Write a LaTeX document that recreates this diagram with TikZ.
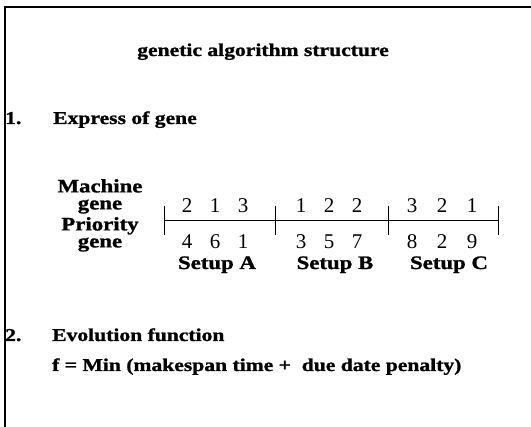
\documentclass[tikz,border=0pt]{standalone}
\usepackage{fontspec}
\setmainfont{Liberation Serif}
\newfontfamily\headfont[FakeStretch=1.2,FakeBold=1.2]{Liberation Serif Bold}
\newfontfamily\digitfont{Liberation Serif}
\usepackage{tikz}
\usetikzlibrary{calc}

\begin{document}
\begin{tikzpicture}[
    x=1pt, y=-1pt,
    frame line/.style={line width=1.2pt},
    gene line/.style={line width=1pt},
    heading/.style={font=\headfont\fontsize{18}{20}\selectfont, anchor=base west, inner sep=0pt},
    title text/.style={font=\headfont\fontsize{18}{20}\selectfont, anchor=base, inner sep=0pt},
    row name/.style={font=\headfont\fontsize{19}{17}\selectfont, align=center, anchor=north, inner sep=0pt},
    gene label/.style={font=\headfont\fontsize{19}{19}\selectfont, anchor=base, inner sep=0pt,
        text height=13pt, text depth=3.5pt},
    digit/.style={font=\digitfont\fontsize{21}{21}\selectfont, anchor=base, inner sep=0pt,
        text height=14pt, text depth=0pt},
    every node/.style={color=black}
    ]
    \useasboundingbox (0,0) rectangle (531,427);

    % frame
    \coordinate (TL) at (5,7);
    \coordinate (TR) at (531,7);
    \coordinate (BL) at (5,427);
    \draw[frame line] (TR) -- (TL) -- (BL);

    % title and part 1
    \node[title text] (title) at (263,56) {genetic algorithm structure};
    \node[heading] (one) at (5,124) {1.};
    \node[heading] (express) at (53,124) {Express of gene};

    % gene rows
    \node[row name] (machine) at (100,179) {Machine\\gene};
    \node[row name] (priority) at (100,217) {Priority\\gene};

    \coordinate (t0) at (164,221);
    \coordinate (t1) at (275,221);
    \coordinate (t2) at (388,221);
    \coordinate (t3) at (498,221);
    \draw[gene line] (t0) -- (t3);
    \foreach \t in {t0,t1,t2,t3}
        \draw[gene line] ($(\t)+(0,-15)$) -- ($(\t)+(0,14)$);

    \foreach \x/\m/\p [count=\i] in {187/2/4, 215/1/6, 243/3/1, 301/1/3, 329/2/5, 357/2/7, 412/3/8, 442/2/2, 472/1/9} {
        \node[digit] (m\i) at (\x,213) {\m};
        \node[digit] (p\i) at (\x,249) {\p};
    }

    \node[gene label] (setupA) at (217,269) {Setup A};
    \node[gene label] (setupB) at (335,269) {Setup B};
    \node[gene label] (setupC) at (449,269) {Setup C};

    % part 2
    \node[heading] (two) at (5,341) {2.};
    \node[heading] (evolution) at (52,341) {Evolution function};
    \node[heading] (fitness) at (52,371) {f = Min (makespan time +\ \ due date penalty)};
\end{tikzpicture}
\end{document}
